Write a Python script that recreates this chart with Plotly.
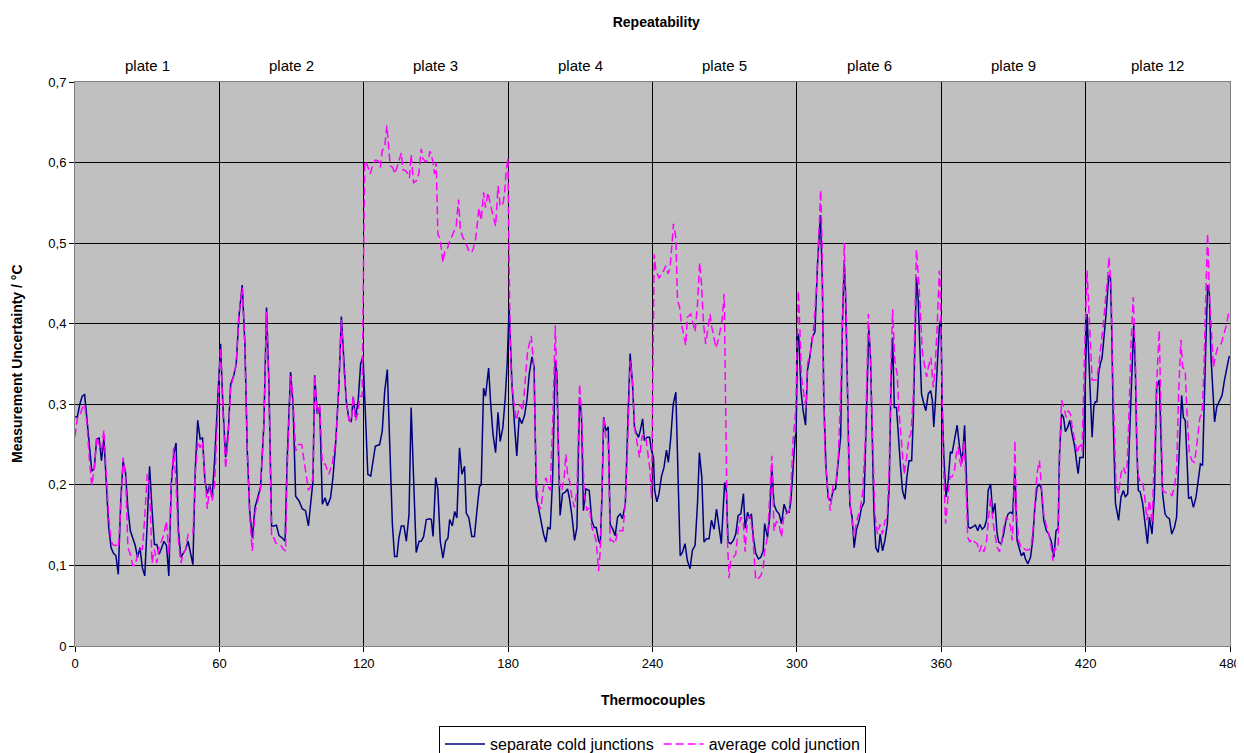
import plotly.graph_objects as go

# ---- data ----
plate_labels = ["plate 1", "plate 2", "plate 3", "plate 4", "plate 5", "plate 6", "plate 9", "plate 12"]
plate_centres = [30, 90, 150, 210, 270, 330, 390, 450]

x_sep = [0,1,2,3,4,5,6,7,8,9,10,11,12,13,14,15,16,17,18,19,20,21,22,23,24,25,26,27,28,29,30,31,32,33,34,35,36,37,38,39,40,41,42,43,44,45,46,47,48,49,50,51,52,53,54,55,56,57,58,59,
 60.5,61.5,62.6,63.7,64.7,66,67,68.1,69.5,70.6,71.6,72.6,73.7,74.8,75.8,77.1,78.5,79.6,80.6,81.7,82.7,83.7,84.8,86.2,87.3,88.2,89.6,90.6,91.7,93.1,94.5,95.8,97,98,98.9,99.6,100.7,101.7,102.8,103.9,104.9,106.2,107.2,108.3,109.7,110.7,111.8,112.7,113.9,114.8,115.6,116.6,117.7,118.7,119.7,
 120.4,121.7,122.9,123.8,124.8,126.6,127.7,128.7,129.8,130.8,131.9,132.8,133.8,134.6,135.6,136.7,137.7,138.8,139.7,140.7,141.8,143,143.9,144.9,146,147.4,148.1,148.8,149.9,150.8,151.8,152.9,154,155,155.7,156.8,157.8,158.7,159.8,160.8,161.9,162.6,163.7,164.9,166,167,168.1,168.8,169.8,170.6,171.9,172.7,173.7,174.8,175.8,176.7,177.8,178.8,179.6,180.4,
 181.6,182.7,183.6,184.6,185.7,186.8,187.8,188.8,189.9,190.8,191.7,192.6,193.8,194.7,195.7,196.5,197.5,198.5,199.6,200.3,200.9,201.6,202.6,203.7,204.7,205.5,206.5,207.6,208.6,209.7,210.5,211.3,212.3,213.7,214.8,215.8,216.6,217.6,218.3,219,219.7,220.6,221.6,222.4,223.5,224.5,225.5,226.6,227.5,228.7,229.6,230.7,231.7,232.5,233.2,234.2,234.9,235.9,236.6,237.7,238.8,239.5,
 240.4,240.9,241.8,242.7,243.7,244.8,245.8,246.6,247.6,248.6,249.7,250.6,251.5,252.4,253.5,254.5,255.6,256.6,257.7,258.7,259.5,260.5,261.4,262.4,263.5,264.5,265.6,266.6,267.7,268.6,269.5,270,270.7,271.4,272.5,273.6,274.6,275.6,276.7,277.8,278.5,279.5,280.4,281.1,281.9,282.9,284,285,286,286.6,287.8,288.7,289.6,290.5,291.5,292.6,293.6,294.7,295.8,296.8,297.5,298.4,299.3,
 299.7,300.3,300.8,301.7,302.6,303.6,304.4,305.4,306.4,307.5,308.6,309.8,310.6,311.2,312.1,313,314.1,315.1,316.1,317.2,318.2,319,319.7,320.2,321.1,322,323,323.8,324.8,325.8,326.9,327.9,328.5,329.4,329.9,330.6,331.3,332,332.8,333.8,334.6,335.6,336.6,337.6,338.4,339.1,339.8,340.5,341.4,342.1,343.1,343.9,344.9,345.7,346.6,347.7,348.4,349,349.7,350.4,351.1,351.8,352.8,353.6,354.6,355.6,356.3,356.9,357.6,358.5,359.2,359.9,
 360.4,361.1,362,362.9,363.8,364.5,365.5,366.6,367.6,368.7,369.7,370.5,371.2,372.1,373.1,374.2,375.2,376,377,378,378.8,379.5,380.5,381.4,382.3,383.2,383.9,384.9,386,386.9,387.8,388.8,389.7,390.6,391.5,392.5,393.3,394.3,395,396,397.1,398,398.9,399.8,400.8,401.6,402.6,403.7,404.7,405.8,406.8,407.7,408.6,409.1,410,410.8,411.6,412.6,413.4,414.4,415.5,416.5,416.9,417.6,418.3,419,419.6,
 420.6,421.3,422,422.7,423.4,424,424.7,425.4,426.1,426.8,427.5,428.5,429.6,430.3,430.8,431.5,432.4,433.1,433.7,434.7,435.7,436.5,437.5,438.2,439.1,440,440.7,441.2,441.9,442.7,443.7,444.7,445.7,446.5,447.6,448.6,449.5,450.6,451.3,452,453,453.8,454.8,455.8,456.9,457.8,458.5,459.2,459.9,460.6,461.4,462.1,462.8,463.8,464.8,465.9,466.9,467.7,468.6,469.3,470,470.7,471.4,472.1,472.8,473.6,474.5,475.6,476.7,477.7,478.6,479.7]
y_sep = [0.284,0.285,0.30,0.31,0.312,0.28,0.245,0.217,0.22,0.257,0.258,0.23,0.258,0.2,0.147,0.122,0.115,0.112,0.089,0.18,0.23,0.215,0.17,0.143,0.134,0.125,0.11,0.122,0.097,0.087,0.152,0.223,0.17,0.126,0.126,0.114,0.122,0.13,0.125,0.087,0.2,0.238,0.252,0.143,0.11,0.115,0.12,0.13,0.115,0.101,0.221,0.28,0.257,0.258,0.205,0.189,0.2,0.184,0.23,0.29,
 0.375,0.296,0.234,0.267,0.325,0.336,0.35,0.408,0.448,0.375,0.242,0.168,0.134,0.172,0.184,0.197,0.275,0.42,0.325,0.149,0.149,0.15,0.137,0.134,0.13,0.234,0.34,0.3,0.186,0.18,0.17,0.168,0.149,0.18,0.205,0.336,0.288,0.296,0.176,0.184,0.174,0.184,0.209,0.25,0.325,0.409,0.346,0.305,0.28,0.278,0.309,0.284,0.305,0.35,0.36,
 0.304,0.213,0.211,0.23,0.248,0.25,0.267,0.316,0.343,0.25,0.151,0.111,0.111,0.134,0.149,0.149,0.13,0.163,0.296,0.209,0.116,0.13,0.13,0.136,0.157,0.158,0.157,0.136,0.209,0.194,0.13,0.109,0.13,0.134,0.157,0.149,0.167,0.159,0.246,0.213,0.223,0.165,0.159,0.136,0.136,0.167,0.198,0.2,0.32,0.31,0.345,0.303,0.263,0.24,0.29,0.254,0.271,0.308,0.35,0.419,
 0.325,0.272,0.236,0.284,0.276,0.286,0.305,0.338,0.359,0.346,0.185,0.172,0.151,0.139,0.129,0.147,0.145,0.209,0.354,0.338,0.242,0.162,0.189,0.191,0.195,0.183,0.162,0.131,0.147,0.309,0.284,0.168,0.195,0.193,0.155,0.147,0.147,0.131,0.127,0.185,0.284,0.267,0.272,0.151,0.145,0.137,0.16,0.164,0.158,0.176,0.263,0.363,0.325,0.272,0.265,0.259,0.267,0.282,0.255,0.259,0.259,0.243,
 0.234,0.193,0.179,0.189,0.21,0.222,0.243,0.228,0.259,0.3,0.315,0.218,0.112,0.116,0.127,0.106,0.096,0.119,0.125,0.177,0.24,0.209,0.129,0.133,0.133,0.156,0.145,0.17,0.143,0.127,0.177,0.203,0.193,0.129,0.127,0.131,0.139,0.162,0.164,0.189,0.146,0.166,0.158,0.164,0.135,0.115,0.108,0.11,0.118,0.152,0.135,0.16,0.222,0.176,0.168,0.164,0.152,0.176,0.166,0.166,0.18,0.226,0.259,
 0.265,0.388,0.384,0.317,0.292,0.274,0.342,0.359,0.383,0.39,0.475,0.535,0.45,0.305,0.222,0.184,0.18,0.193,0.195,0.226,0.26,0.408,0.475,0.44,0.325,0.176,0.159,0.122,0.145,0.155,0.172,0.178,0.243,0.367,0.394,0.358,0.243,0.168,0.122,0.116,0.139,0.118,0.131,0.152,0.2,0.325,0.383,0.296,0.296,0.259,0.222,0.193,0.182,0.209,0.23,0.23,0.284,0.367,0.458,0.43,0.367,0.313,0.3,0.292,0.313,0.317,0.305,0.272,0.305,0.367,0.396,0.408,
 0.297,0.234,0.185,0.205,0.241,0.239,0.255,0.274,0.247,0.228,0.274,0.214,0.148,0.146,0.148,0.15,0.143,0.151,0.145,0.148,0.156,0.193,0.201,0.164,0.177,0.14,0.129,0.127,0.14,0.156,0.164,0.166,0.164,0.222,0.131,0.122,0.112,0.116,0.108,0.102,0.11,0.131,0.172,0.197,0.201,0.195,0.156,0.143,0.139,0.129,0.11,0.143,0.146,0.235,0.288,0.284,0.266,0.272,0.28,0.263,0.247,0.222,0.214,0.234,0.234,0.234,0.297,
 0.412,0.359,0.31,0.259,0.297,0.303,0.303,0.338,0.35,0.357,0.379,0.412,0.46,0.458,0.4,0.276,0.177,0.164,0.156,0.185,0.193,0.185,0.189,0.255,0.338,0.4,0.338,0.255,0.193,0.191,0.177,0.152,0.127,0.16,0.139,0.189,0.321,0.33,0.255,0.189,0.164,0.16,0.158,0.139,0.147,0.16,0.214,0.276,0.311,0.284,0.28,0.234,0.183,0.185,0.172,0.185,0.21,0.226,0.224,0.288,0.379,0.448,0.438,0.359,0.317,0.278,0.297,0.305,0.311,0.33,0.342,0.36]

x_avg = [0,1,2,3,4,5,6,7,8,9,10,11,12,13,14,15,16,17,18,19,20,21,22,23,24,25,26,27,28,29,30,31,32,33,34,35,36,37,38,39,40,41,42,43,44,45,46,47,48,49,50,51,52,53,54,55,56,57,58,59.1,
 60.5,61.5,62.6,63.7,64.7,66,67,68.1,69.5,70.6,71.6,72.6,73.7,74.8,75.8,77.1,78.5,79.6,80.6,81.7,82.7,83.4,84.2,85.5,86.6,87.5,88.2,89.6,90.6,91.7,92.8,94.2,95.6,97,98.3,98.9,99.6,100.7,101.7,102.8,104,105.5,106.9,107.6,108.6,109.7,110.7,111.8,112.7,113.9,114.8,115.6,116.6,117.7,118.3,119.3,
 120.1,120.4,121.3,122.7,123.8,124.8,125.9,126.9,127.7,128.7,129.6,130.5,131,132.1,132.8,133.8,134.6,135.6,136.3,137.4,138.4,139,139.7,140.7,141.8,142.9,143.9,144.6,145.6,146.7,147.6,148.8,149.4,150.1,150.8,151.5,152.2,152.9,153.6,154.6,155.4,156.4,157.3,158.4,159.4,160.1,160.9,161.9,162.6,163.7,164.7,165.4,166.5,167,167.9,168.8,169.8,170.6,171.6,172.6,173.7,174.8,175.8,176.7,177.8,178.5,179.2,179.9,
 180.6,181.3,182.3,183.4,184.3,185,186.1,187.1,188.1,189.6,190.6,191.7,192.6,193.6,194.7,195.7,196.4,197.5,198.6,199.6,200.5,201.4,202.3,203.3,204,204.7,205.5,206.5,207.5,208.6,209.7,210.6,211.6,212.7,213.8,214.8,215.8,216.6,217.6,218.3,219,219.7,220.6,221.6,222.4,223.5,224.5,225.5,226.6,227.7,228.7,229.6,230.7,231.7,232.5,233.5,234.6,235.6,236.3,237.4,237.9,239,239.6,
 240.7,241.4,242.7,244.1,245.5,246.5,247.3,248.3,248.7,249.7,250.4,251.3,252,252.9,253.8,254.5,255.9,256.9,257.7,258.7,259.6,260.3,261.2,262.1,263.1,263.9,264.6,265.3,266.3,267.3,268.1,268.9,269.8,270.5,271.1,271.8,272.5,273.6,274.6,275.6,276.7,277.7,278.5,279.5,280.6,281.5,282.2,282.9,284,285,286,286.6,287.8,288.5,289.6,290.5,291.5,292.6,293.6,294.7,295.8,296.8,297.5,298.4,299.5,300,
 300.6,301.3,301.9,302.9,303.8,304.4,305.4,306.4,307.2,308.2,308.9,309.9,310.5,311,311.7,312.8,313.9,315.1,316.2,317.2,318.3,319.7,320.7,321.6,322.5,323.8,324.8,326.2,327.3,328.5,329.7,330.6,331.5,332.4,333.5,334.5,335.5,336.6,337.5,338.4,339.1,339.8,340.7,341.7,342.4,343.5,344.6,345.6,346.6,347.4,348.4,349.3,349.7,350.7,351.5,352.2,353.2,353.9,354.6,355.7,356.7,357.4,358.3,359.2,359.5,
 360.1,360.8,361.8,362.6,363.6,364.5,365.5,366.3,367,367.7,368.4,369.4,370.1,371,371.9,372.8,373.9,374.9,375.9,376.7,377.7,378.7,379.5,380.5,381.4,382.3,383.2,384.2,385,386,387,388,388.8,389.5,390.2,390.6,391.3,392.2,393.3,394.3,395.3,396.4,397.4,398.2,398.9,399.8,400.8,401.6,402.6,403.7,404.7,405.7,406.4,407.1,407.7,408.6,409.3,410,410.9,411.9,412.7,413.7,414.4,415.5,416.5,417.2,417.9,418.5,419.2,419.9,
 420.6,421.3,422,422.7,423.6,424.6,425.4,426.4,427.4,428.2,429.2,429.7,430.6,431.3,432,432.6,433.7,434.7,435.7,436.5,437.2,437.9,438.9,439.8,440.7,441.6,442.6,443.7,444.7,445.5,446.5,447.6,448.6,449.5,450.6,451.3,452,453,454.1,455.1,455.9,456.9,457.8,458.7,459.6,460.3,461.4,462,463.1,464.2,465.2,465.9,466.6,467.5,468.4,469.1,470,470.7,471.4,472.1,473.1,473.9,474.9,476.3,477.2,478.3,479.5]
y_avg = [0.26,0.283,0.285,0.295,0.3,0.275,0.23,0.199,0.22,0.259,0.25,0.242,0.268,0.21,0.16,0.13,0.125,0.125,0.122,0.17,0.234,0.21,0.122,0.114,0.1,0.1,0.114,0.12,0.12,0.16,0.213,0.2,0.103,0.12,0.103,0.125,0.13,0.14,0.155,0.114,0.2,0.246,0.2,0.13,0.103,0.115,0.12,0.139,0.139,0.139,0.213,0.254,0.246,0.254,0.21,0.17,0.2,0.18,0.2,0.275,
 0.37,0.29,0.22,0.26,0.32,0.336,0.35,0.41,0.445,0.375,0.242,0.16,0.118,0.165,0.18,0.195,0.275,0.415,0.325,0.134,0.134,0.128,0.126,0.125,0.12,0.118,0.22,0.335,0.309,0.242,0.25,0.25,0.222,0.193,0.2,0.21,0.336,0.288,0.3,0.226,0.226,0.213,0.226,0.242,0.26,0.33,0.405,0.34,0.305,0.28,0.278,0.311,0.28,0.29,0.31,0.31,
 0.6,0.602,0.598,0.586,0.598,0.603,0.602,0.594,0.615,0.619,0.646,0.606,0.596,0.594,0.586,0.594,0.602,0.612,0.591,0.59,0.586,0.581,0.61,0.575,0.577,0.586,0.617,0.605,0.601,0.603,0.614,0.601,0.586,0.6,0.511,0.507,0.494,0.476,0.489,0.491,0.5,0.507,0.515,0.521,0.554,0.519,0.509,0.503,0.499,0.49,0.488,0.492,0.505,0.519,0.544,0.528,0.563,0.544,0.563,0.548,0.536,0.521,0.571,0.546,0.548,0.561,0.59,0.606,
 0.43,0.334,0.305,0.28,0.292,0.3,0.292,0.325,0.366,0.385,0.35,0.209,0.176,0.17,0.197,0.209,0.2,0.193,0.284,0.398,0.293,0.2,0.193,0.209,0.238,0.213,0.205,0.184,0.172,0.193,0.325,0.284,0.189,0.168,0.172,0.147,0.139,0.13,0.093,0.118,0.193,0.284,0.259,0.251,0.131,0.131,0.127,0.143,0.143,0.143,0.176,0.243,0.354,0.33,0.272,0.255,0.234,0.259,0.263,0.255,0.245,0.217,0.183,
 0.486,0.466,0.457,0.462,0.472,0.462,0.47,0.507,0.524,0.507,0.429,0.42,0.4,0.387,0.373,0.408,0.412,0.4,0.39,0.424,0.476,0.452,0.4,0.375,0.396,0.412,0.396,0.387,0.37,0.379,0.391,0.404,0.437,0.26,0.135,0.084,0.106,0.11,0.114,0.145,0.16,0.155,0.117,0.16,0.16,0.143,0.11,0.082,0.084,0.087,0.097,0.118,0.135,0.176,0.236,0.143,0.155,0.151,0.135,0.164,0.164,0.168,0.193,0.255,0.292,0.36,
 0.441,0.39,0.334,0.313,0.296,0.35,0.362,0.379,0.404,0.448,0.49,0.566,0.5,0.325,0.235,0.193,0.168,0.201,0.201,0.234,0.325,0.5,0.39,0.205,0.164,0.135,0.155,0.168,0.189,0.26,0.412,0.354,0.26,0.164,0.139,0.151,0.139,0.155,0.159,0.226,0.35,0.418,0.354,0.337,0.292,0.251,0.213,0.234,0.259,0.263,0.313,0.441,0.492,0.45,0.392,0.363,0.346,0.334,0.346,0.358,0.321,0.342,0.396,0.466,0.458,
 0.359,0.234,0.152,0.181,0.21,0.21,0.218,0.239,0.247,0.23,0.222,0.255,0.214,0.135,0.129,0.133,0.129,0.127,0.117,0.125,0.117,0.127,0.156,0.185,0.156,0.14,0.123,0.117,0.127,0.148,0.16,0.156,0.148,0.131,0.18,0.255,0.164,0.131,0.121,0.121,0.119,0.119,0.123,0.148,0.181,0.214,0.23,0.205,0.164,0.148,0.139,0.123,0.106,0.121,0.12,0.123,0.255,0.305,0.297,0.284,0.292,0.288,0.272,0.255,0.239,0.247,0.249,0.242,0.338,0.4,
 0.466,0.42,0.359,0.33,0.33,0.33,0.347,0.371,0.4,0.429,0.458,0.483,0.445,0.338,0.248,0.201,0.189,0.214,0.222,0.214,0.222,0.276,0.379,0.433,0.355,0.214,0.205,0.205,0.181,0.156,0.181,0.152,0.24,0.326,0.392,0.297,0.193,0.191,0.189,0.189,0.187,0.197,0.218,0.317,0.38,0.346,0.342,0.296,0.239,0.23,0.228,0.242,0.263,0.284,0.288,0.338,0.44,0.512,0.44,0.403,0.346,0.359,0.371,0.375,0.384,0.396,0.414]

x_ticks = [0, 60, 120, 180, 240, 300, 360, 420, 480]
y_ticks = [0, 0.1, 0.2, 0.3, 0.4, 0.5, 0.6, 0.7]

FONT = "Liberation Sans, Arial, sans-serif"

# The page body has an 8 px margin, so the figure is 8 px smaller than the window
W, H = 1236, 745

fig = go.Figure()
fig.add_trace(go.Scatter(x=x_sep, y=y_sep, mode="lines", name="separate cold junctions",
                         line=dict(color="#000080", width=1.5)))
fig.add_trace(go.Scatter(x=x_avg, y=y_avg, mode="lines", name="average cold junction",
                         line=dict(color="#FF00FF", width=1.5, dash="8px,4px")))

annotations = []
for lbl, cx in zip(plate_labels, plate_centres):
    annotations.append(dict(x=cx, y=1, xref="x", yref="paper", text=lbl, showarrow=False,
                            yanchor="middle", yshift=17, font=dict(size=15, color="black", family=FONT)))
annotations.append(dict(x=-0.0502, y=0.5, xref="paper", yref="paper", text="<b>Measurement Uncertainty / °C</b>",
                        textangle=-90, showarrow=False, xanchor="center", yanchor="middle",
                        font=dict(size=14, color="black", family=FONT)))
annotations.append(dict(x=0.5, y=-0.0957, xref="paper", yref="paper", text="<b>Thermocouples</b>",
                        showarrow=False, xanchor="center", yanchor="middle",
                        font=dict(size=14, color="black", family=FONT)))

fig.update_layout(
    width=W, height=H,
    margin=dict(l=67, r=14, t=74, b=107, autoexpand=False),
    paper_bgcolor="white", plot_bgcolor="#C0C0C0",
    separators=",.",
    font=dict(family=FONT, size=13, color="black"),
    title=dict(text="<b>Repeatability</b>", x=0.5245, xanchor="center", y=1 - 14 / H, yanchor="middle",
               font=dict(size=14, color="black", family=FONT)),
    xaxis=dict(range=[0, 480], tickvals=x_ticks, showgrid=True, gridcolor="black", gridwidth=1,
               zeroline=False, showline=True, linecolor="#808080", linewidth=1, mirror=True,
               ticks="outside", ticklen=5, tickcolor="black", tickfont=dict(size=13), automargin=False),
    yaxis=dict(range=[0, 0.7], tickvals=y_ticks, showgrid=True, gridcolor="black", gridwidth=1,
               zeroline=False, showline=True, linecolor="#808080", linewidth=1, mirror=True,
               ticks="outside", ticklen=5, tickcolor="black", tickfont=dict(size=13), automargin=False),
    legend=dict(orientation="h", x=0.5, xanchor="center", y=-0.142, yanchor="top",
                bordercolor="black", borderwidth=1, bgcolor="white",
                font=dict(size=16, color="black", family=FONT), itemwidth=40),
    annotations=annotations,
    showlegend=True,
)

fig.write_html("out.html")
